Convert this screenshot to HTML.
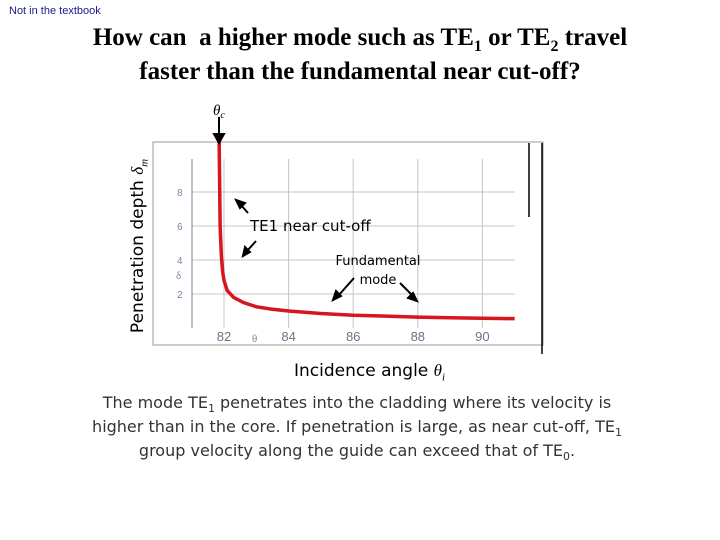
<!DOCTYPE html>
<html><head><meta charset="utf-8"><style>
body{margin:0;width:720px;height:540px;background:#fff;position:relative;overflow:hidden}
.t{position:absolute;white-space:nowrap}
sub{line-height:0}
</style></head><body>
<div class="t" style="left:9px;top:5px;font:11px 'Liberation Sans',sans-serif;color:#1a1a8c">Not in the textbook</div>
<div class="t" style="left:0;width:720px;top:21px;text-align:center;font:bold 25px/34px 'Liberation Serif',serif;color:#000">How can&nbsp; a higher mode such as TE<sub style="font-size:16px">1</sub> or TE<sub style="font-size:16px">2</sub> travel<br>faster than the fundamental near cut-off?</div>
<svg width="720" height="540" style="position:absolute;left:0;top:0">
<rect x="153" y="142" width="390" height="203" fill="none" stroke="#999"/>
<line x1="529" y1="143" x2="529" y2="217" stroke="#000" stroke-width="1.5"/>
<line x1="542" y1="143" x2="542" y2="354" stroke="#000" stroke-width="1.5"/>
<g id="grid"></g><g id="ticks"></g>
<line x1="192" y1="159" x2="192" y2="328" stroke="#8a7a9a"/>
<path id="curve" fill="none" stroke="#d8141c" stroke-width="3.5"/>
<text x="176" y="279" font-family="Liberation Serif" font-size="11" fill="#8a7a9a">δ</text>
<text x="252" y="342" font-family="Liberation Serif" font-size="11" fill="#8a7a9a">θ</text>
<text x="213" y="115" font-family="Liberation Serif" font-style="italic" font-size="15">θ<tspan font-size="10" dy="3">c</tspan></text>
<g stroke="#000" stroke-width="2" fill="#000">
<line x1="219" y1="117" x2="219" y2="136"/><polygon points="214,134 224,134 219,143"/>
<line x1="248" y1="213" x2="240" y2="204"/><polygon points="236,200 245,203 240,208"/>
<line x1="256" y1="241" x2="247" y2="251"/><polygon points="243,256 245,247 250,252"/>
<line x1="354" y1="278" x2="338" y2="296"/><polygon points="333,300 336,291 341,296"/>
<line x1="400" y1="283" x2="413" y2="296"/><polygon points="417,301 408,298 413,293"/>
</g>
</svg>
<div class="t" style="left:250px;top:217px;font:15px 'DejaVu Sans',sans-serif">TE1 near cut-off</div>
<div class="t" style="left:333px;top:252px;width:90px;text-align:center;font:13px/19px 'DejaVu Sans',sans-serif">Fundamental<br>mode</div>
<div class="t" style="left:138px;top:246px;transform:translate(-50%,-50%) rotate(-90deg);font:17px 'DejaVu Sans',sans-serif">Penetration depth <i style="font-family:'Liberation Serif'">δ<sub style="font-size:11px">m</sub></i></div>
<div class="t" style="left:294px;top:361px;font:17px 'DejaVu Sans',sans-serif">Incidence angle <i style="font-family:'Liberation Serif'">θ<sub style="font-size:11px">i</sub></i></div>
<div class="t" style="left:0;width:714px;top:391px;text-align:center;font:16px/24px 'DejaVu Sans',sans-serif;color:#333">The mode TE<sub style="font-size:11px">1</sub> penetrates into the cladding where its velocity is<br>higher than in the core. If penetration is large, as near cut-off, TE<sub style="font-size:11px">1</sub><br>group velocity along the guide can exceed that of TE<sub style="font-size:11px">0</sub>.</div>
<script>
const xTicks=[82,84,86,88,90];
const yTicks=[2,4,6,8];
const angles=[81.85,81.88,81.92,81.96,82.0,82.1,82.3,82.6,83.0,83.5,84,85,86,87,88,89,90,91];
const depths=[11,6,4.2,3.3,2.8,2.2,1.8,1.5,1.25,1.1,1.0,0.85,0.75,0.7,0.64,0.6,0.57,0.55];
const X=v=>224+(v-82)*32.3, Y=v=>328-v*17;
const ns='http://www.w3.org/2000/svg';
const g=document.getElementById('grid'),tk=document.getElementById('ticks');
yTicks.forEach(v=>{
 const l=document.createElementNS(ns,'line');
 
 
 l.setAttribute('x1',192);l.setAttribute('x2',515);l.setAttribute('y1',Y(v));l.setAttribute('y2',Y(v));l.setAttribute('stroke','#c8c0d0');g.appendChild(l);
 const t=document.createElementNS(ns,'text');
 
 
 t.setAttribute('x',177);t.setAttribute('y',Y(v)+4);t.setAttribute('font-family','Liberation Sans');t.setAttribute('font-size','10');t.setAttribute('fill','#8a7a9a');t.textContent=v;tk.appendChild(t);
});
xTicks.forEach(v=>{
 const l=document.createElementNS(ns,'line');
 
 
 l.setAttribute('x1',X(v));l.setAttribute('x2',X(v));l.setAttribute('y1',159);l.setAttribute('y2',328);l.setAttribute('stroke','#c8c0d0');g.appendChild(l);
 const t=document.createElementNS(ns,'text');
 
 
 t.setAttribute('x',X(v));t.setAttribute('y',341);t.setAttribute('text-anchor','middle');t.setAttribute('font-family','Liberation Sans');t.setAttribute('font-size','13');t.setAttribute('fill','#7a6a90');t.textContent=v;tk.appendChild(t);
});
document.getElementById('curve').setAttribute('d',angles.map((a,i)=>(i?'L':'M')+X(a)+','+Y(depths[i])).join(' '));
</script>
</body></html>
